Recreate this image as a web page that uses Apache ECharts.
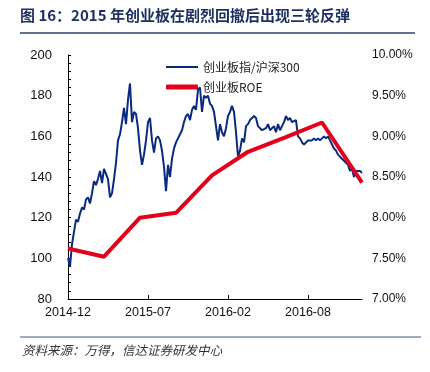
<!DOCTYPE html>
<html><head><meta charset="utf-8">
<script src="https://cdn.jsdelivr.net/npm/echarts@6/dist/echarts.min.js"></script>
<style>html,body{margin:0;padding:0;background:#fff}#c{width:430px;height:372px}</style>
</head><body><div id="c"></div>
<script>
// Tick labels of the x axis and the category positions they sit on
const tickLabels = ['2014-12', '2015-07', '2016-02', '2016-08'];
const tickIdx = [0, 40, 80, 120];
const N = 148;
// 创业板指/沪深300
const blue = [100,96,107,113,119,118,122,125,124,129,
130,127,132,138,136,139,143,137,144,144,
139,130,132,139,147,158,161,167,174,166,
178,186,167,172,171,164,153,146,151,158,
167,169,158,152,159,160,158,153,145,133,
146,140,149,154,157,159,161,163,167,170,
171,168,173,175,173,183,184,172,180,179,
180,176,175,172,165,158,166,162,160,164,
170,172,175,172,162,150,153,159,157,165,
166,168,168,170,169,165,165,163,163,164,
166,163,163,165,162,166,163,165,167,170,
168,169,167,167,168,160,159,157,156,157,
158,158,158,159,158,159,158,159,160,159,
160,158,156,154,153,151,150,149,148,147,
146,143,144,140,143,143,143,142];
// 创业板ROE (%), quarterly points
const roeIdx = [0, 18, 36, 54, 72, 90, 108, 127, 147];
const roeVals = [7.62, 7.52, 8.00, 8.06, 8.52, 8.81, 8.98, 9.17, 8.43];

const categories = [];
for (let i = 0; i < N; i++) categories.push('p' + i);
const labelAt = {};
tickIdx.forEach((k, j) => labelAt[k] = tickLabels[j]);
const roeData = new Array(N).fill(null);
roeIdx.forEach((k, j) => roeData[k] = roeVals[j]);

const legendText = {fontSize: 12, color: '#222', fontFamily: '"Noto Sans CJK SC", sans-serif'};
const chart = echarts.init(document.getElementById('c'), null, {renderer: 'canvas'});
chart.setOption({
  animation: false,
  backgroundColor: '#fff',
  textStyle: {fontFamily: 'Liberation Sans, Arial, sans-serif'},
  graphic: [
    {type: 'text', left: 20, top: 8, style: {text: '图 16：2015 年创业板在剧烈回撤后出现三轮反弹', font: 'bold 15px "Noto Sans CJK SC", sans-serif', fill: '#1c2f5e'}},
    {type: 'line', shape: {x1: 20, y1: 33, x2: 415, y2: 33}, style: {stroke: '#2c3f6e', lineWidth: 1.5}},
    {type: 'line', shape: {x1: 20, y1: 337, x2: 421, y2: 337}, style: {stroke: '#3d5a8a', lineWidth: 1}},
    {type: 'text', left: 22, top: 344, style: {text: '资料来源：万得，信达证券研发中心', font: 'italic 12.5px "Noto Sans CJK SC", sans-serif', fill: '#333'}}
  ],
  legend: [
    {left: 161, top: 56, itemWidth: 32, itemHeight: 2, icon: 'rect', textStyle: legendText,
      data: ['创业板指/沪深300']},
    {left: 161, top: 76, itemWidth: 32, itemHeight: 5, icon: 'roundRect', textStyle: legendText,
      data: ['创业板ROE']}
  ],
  grid: {left: 68, right: 68, top: 55, bottom: 73, containLabel: false},
  xAxis: {
    type: 'category', data: categories, boundaryGap: false,
    axisLine: {lineStyle: {color: '#000', width: 1}},
    axisTick: {inside: true, length: 4, lineStyle: {color: '#000'}, interval: (i) => labelAt[i] !== undefined},
    axisLabel: {interval: (i) => labelAt[i] !== undefined, formatter: (v, i) => labelAt[i] || '', color: '#111', fontSize: 12.5, margin: 7},
    splitLine: {show: false}
  },
  yAxis: [
    {type: 'value', min: 80, max: 200, interval: 20,
      axisLine: {show: true, lineStyle: {color: '#000', width: 1}},
      axisTick: {show: true, inside: true, length: 3, lineStyle: {color: '#000'}},
      minorTick: {show: true, splitNumber: 5, length: 3, lineStyle: {color: '#000'}},
      axisLabel: {color: '#111', fontSize: 13, margin: 16},
      splitLine: {show: false}},
    {type: 'value', min: 7, max: 10, interval: 0.5, position: 'right',
      axisLine: {show: false}, axisTick: {show: false},
      axisLabel: {color: '#111', fontSize: 12, margin: 10, formatter: (v) => v.toFixed(2) + '%'},
      splitLine: {show: false}}
  ],
  series: [
    {name: '创业板指/沪深300', type: 'line', data: blue, symbol: 'none', yAxisIndex: 0,
      lineStyle: {color: '#0a2a80', width: 2}, itemStyle: {color: '#0a2a80'}, z: 2},
    {name: '创业板ROE', type: 'line', data: roeData, connectNulls: true, symbol: 'none', yAxisIndex: 1,
      lineStyle: {color: '#e2001a', width: 4}, itemStyle: {color: '#e2001a'}, z: 3}
  ]
});
</script></body></html>
